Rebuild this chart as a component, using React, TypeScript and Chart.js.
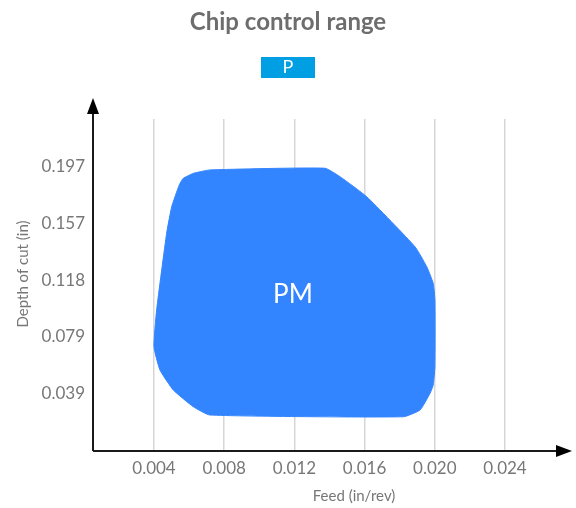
import React, { useEffect, useRef } from "react";
import { Chart, registerables } from "chart.js";

Chart.register(...registerables);

const titleText = "Chip control range";
const legendText = "P";
const regionLabel = "PM";
const xTitle = "Feed (in/rev)";
const yTitle = "Depth of cut (in)";

const xTickValues = [0.004, 0.008, 0.012, 0.016, 0.02, 0.024];
const xTickLabels = ["0.004", "0.008", "0.012", "0.016", "0.020", "0.024"];
const yTickValues = [0.03937, 0.07874, 0.11811, 0.15748, 0.19685];
const yTickLabels = ["0.039", "0.079", "0.118", "0.157", "0.197"];

// PM region outline (feed in/rev, depth in)
const regionFeed = [
  0.00624, 0.00719, 0.01374, 0.0146, 0.01612, 0.01887, 0.01954, 0.01991, 0.02001,
  0.02001, 0.01991, 0.01973, 0.01916, 0.01821, 0.00719, 0.00624, 0.0051, 0.00434,
  0.004, 0.00415, 0.00472, 0.00501, 0.00544, 0.00567, 0.00624,
];
const regionDepth = [
  0.1923, 0.1946, 0.1958, 0.1899, 0.176, 0.1413, 0.1274, 0.1159, 0.1043,
  0.0579, 0.0452, 0.0394, 0.0278, 0.0231, 0.0243, 0.0301, 0.0417, 0.0556,
  0.0718, 0.0973, 0.1506, 0.1691, 0.1842, 0.1888, 0.1923,
];
const labelFeed = 0.01192;
const labelDepth = 0.1077;

const FONT = "Lato, 'Open Sans', sans-serif";

const overlayPlugin = {
  id: "overlay",
  afterDraw(chart: any) {
    const ctx = chart.ctx as CanvasRenderingContext2D;
    const { left, bottom } = chart.chartArea;
    const xs = chart.scales.x;
    const ys = chart.scales.y;
    ctx.save();
    // title
    ctx.fillStyle = "#6d6d6d";
    ctx.font = `bold 24px ${FONT}`;
    ctx.textAlign = "center";
    ctx.textBaseline = "alphabetic";
    ctx.fillText(titleText, 288, 30);
    // legend box
    ctx.fillStyle = "#009fe3";
    ctx.fillRect(261, 57, 54, 21);
    ctx.fillStyle = "#ffffff";
    ctx.font = `18px ${FONT}`;
    ctx.textBaseline = "middle";
    ctx.fillText(legendText, 288, 67.5);
    // region label
    ctx.font = `26px ${FONT}`;
    ctx.fillText(regionLabel, xs.getPixelForValue(labelFeed), ys.getPixelForValue(labelDepth));
    // axes
    ctx.strokeStyle = "#1a1a1a";
    ctx.fillStyle = "#000000";
    ctx.lineWidth = 2;
    ctx.beginPath();
    ctx.moveTo(left, bottom + 1);
    ctx.lineTo(562, bottom + 1);
    ctx.moveTo(left, bottom + 1);
    ctx.lineTo(left, 110);
    ctx.stroke();
    ctx.beginPath();
    ctx.moveTo(572, bottom + 1);
    ctx.lineTo(556, bottom - 5);
    ctx.lineTo(556, bottom + 7);
    ctx.closePath();
    ctx.fill();
    ctx.beginPath();
    ctx.moveTo(left, 98);
    ctx.lineTo(left - 6, 114);
    ctx.lineTo(left + 6, 114);
    ctx.closePath();
    ctx.fill();
    // axis titles
    ctx.fillStyle = "#777777";
    ctx.font = `15px ${FONT}`;
    ctx.textAlign = "center";
    ctx.textBaseline = "middle";
    ctx.fillText(xTitle, 354, 496);
    ctx.translate(23, 274);
    ctx.rotate(-Math.PI / 2);
    ctx.fillText(yTitle, 0, 0);
    ctx.restore();
  },
};

export default function App() {
  const ref = useRef<HTMLCanvasElement>(null);
  useEffect(() => {
    document.body.style.margin = "0";
    const points = regionFeed.map((x, i) => ({ x, y: regionDepth[i] }));
    const chart = new Chart(ref.current!, {
      type: "scatter",
      data: {
        datasets: [
          {
            data: points,
            showLine: true,
            fill: "shape",
            backgroundColor: "#3384ff",
            borderColor: "#3384ff",
            borderWidth: 1,
            pointRadius: 0,
            tension: 0.15,
          } as any,
        ],
      },
      options: {
        animation: false,
        responsive: false,
        events: [],
        layout: { padding: { top: 119, right: 11, left: 0, bottom: 0 } },
        plugins: { legend: { display: false }, title: { display: false }, tooltip: { enabled: false } },
        scales: {
          x: {
            type: "linear",
            min: 0.000524,
            max: 0.02742,
            z: 1,
            border: { display: false },
            grid: { color: "rgba(0,0,0,0.16)", lineWidth: 1.5, drawTicks: false },
            afterBuildTicks: (s: any) => {
              s.ticks = xTickValues.map((v) => ({ value: v }));
            },
            afterFit: (s: any) => {
              s.height = 58;
            },
            ticks: {
              autoSkip: false,
              maxRotation: 0,
              padding: 8,
              color: "#777777",
              font: { family: FONT, size: 17 },
              callback: (_v: any, i: number) => xTickLabels[i],
            },
          },
          y: {
            type: "linear",
            min: 0,
            max: 0.23,
            border: { display: false },
            grid: { display: false, drawTicks: false },
            afterBuildTicks: (s: any) => {
              s.ticks = yTickValues.map((v) => ({ value: v }));
            },
            afterFit: (s: any) => {
              s.width = 93;
            },
            ticks: {
              autoSkip: false,
              padding: 8,
              color: "#777777",
              font: { family: FONT, size: 17 },
              callback: (_v: any, i: number) => yTickLabels[i],
            },
          },
        },
      },
      plugins: [overlayPlugin],
    });
    return () => chart.destroy();
  }, []);
  return (
    <div style={{ width: 576, height: 508 }}>
      <canvas ref={ref} width={576} height={508} style={{ display: "block" }} />
    </div>
  );
}
